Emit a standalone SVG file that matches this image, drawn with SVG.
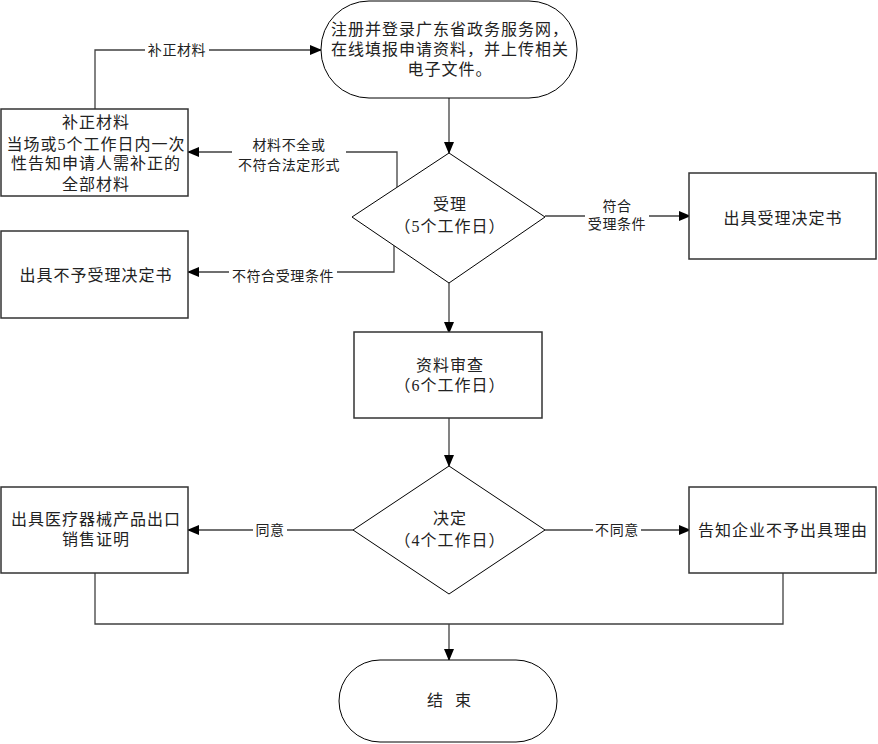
<svg xmlns="http://www.w3.org/2000/svg" width="878" height="744" viewBox="0 0 878 744">
<defs>
<marker id="ah" markerWidth="12" markerHeight="10" refX="11" refY="5" orient="auto" markerUnits="userSpaceOnUse">
<path d="M0,0 L12,5 L0,10 Z" fill="#000"/>
</marker>
<style>
.shape{fill:#fff;stroke:#000;stroke-width:1}
.box{fill:#fff;stroke:#333;stroke-width:1.5}
.con{fill:none;stroke:#404040;stroke-width:1.3}
.t{font-family:"Liberation Serif","Noto Sans CJK SC",serif;font-size:16px;letter-spacing:1px;fill:#222;text-anchor:middle}
.l{font-family:"Liberation Serif","Noto Sans CJK SC",serif;font-size:14px;letter-spacing:0.6px;fill:#222;text-anchor:middle}
.bg{fill:#fff;stroke:none}
</style>
</defs>
<rect width="878" height="744" fill="#fff"/>
<g id="connectors">
<path class="con" d="M449,98 V153" marker-end="url(#ah)"/>
<path class="con" d="M95,109 V50 H321" marker-end="url(#ah)"/>
<path class="con" d="M397,187 V152 H188" marker-end="url(#ah)"/>
<path class="con" d="M394,245 V272 H188" marker-end="url(#ah)"/>
<path class="con" d="M545,216 H690" marker-end="url(#ah)"/>
<path class="con" d="M449,283 V333" marker-end="url(#ah)"/>
<path class="con" d="M449,418 V466" marker-end="url(#ah)"/>
<path class="con" d="M353,530 H188" marker-end="url(#ah)"/>
<path class="con" d="M545,530 H690" marker-end="url(#ah)"/>
<path class="con" d="M95,573 V624 H783 V573"/>
<path class="con" d="M449,624 V660" marker-end="url(#ah)"/>
<rect class="bg" x="145" y="42" width="64" height="16"/>
<text class="l" x="177" y="55">补正材料</text>
<rect class="bg" x="232" y="137" width="114" height="36"/>
<text class="l" x="289" y="150">材料不全或</text>
<text class="l" x="289" y="170">不符合法定形式</text>
<rect class="bg" x="229" y="264" width="108" height="17"/>
<text class="l" x="283" y="281">不符合受理条件</text>
<rect class="bg" x="585" y="198" width="64" height="36"/>
<text class="l" x="617" y="211">符合</text>
<text class="l" x="617" y="229">受理条件</text>
<rect class="bg" x="253" y="522" width="34" height="16"/>
<text class="l" x="270" y="535">同意</text>
<rect class="bg" x="593" y="522" width="48" height="16"/>
<text class="l" x="617" y="535">不同意</text>
</g>
<g id="start">
<rect class="shape" x="321" y="1" width="256" height="97" rx="48" ry="48"/>
<text class="t" x="450" y="35">注册并登录广东省政务服务网，</text>
<text class="t" x="450" y="55">在线填报申请资料，并上传相关</text>
<text class="t" x="450" y="75">电子文件。</text>
</g>
<g id="accept">
<polygon class="shape" points="449,153 545,217 449,283 352,217"/>
<text class="t" x="450" y="210">受理</text>
<text class="t" x="450" y="232">（5个工作日）</text>
</g>
<g id="supplement">
<rect class="box" x="1" y="109" width="187" height="87"/>
<text class="t" x="96" y="128">补正材料</text>
<text class="t" x="96" y="150">当场或5个工作日内一次</text>
<text class="t" x="96" y="169">性告知申请人需补正的</text>
<text class="t" x="96" y="190">全部材料</text>
</g>
<g id="reject-accept">
<rect class="box" x="1" y="231" width="187" height="87"/>
<text class="t" x="96" y="281">出具不予受理决定书</text>
</g>
<g id="accept-decision">
<rect class="box" x="689" y="173" width="187" height="86"/>
<text class="t" x="783" y="224">出具受理决定书</text>
</g>
<g id="review">
<rect class="box" x="354" y="332" width="188" height="86"/>
<text class="t" x="450" y="371">资料审查</text>
<text class="t" x="450" y="391">（6个工作日）</text>
</g>
<g id="decide">
<polygon class="shape" points="449,466 545,530 449,594 353,530"/>
<text class="t" x="450" y="524">决定</text>
<text class="t" x="450" y="546">（4个工作日）</text>
</g>
<g id="certificate">
<rect class="box" x="1" y="487" width="187" height="86"/>
<text class="t" x="96" y="525">出具医疗器械产品出口</text>
<text class="t" x="96" y="545">销售证明</text>
</g>
<g id="refuse">
<rect class="box" x="689" y="487" width="187" height="86"/>
<text class="t" x="783" y="536">告知企业不予出具理由</text>
</g>
<g id="end">
<rect class="shape" x="339" y="660" width="218" height="82" rx="41" ry="41"/>
<text class="t" x="451" y="706" style="letter-spacing:4px">结 束</text>
</g>
</svg>
